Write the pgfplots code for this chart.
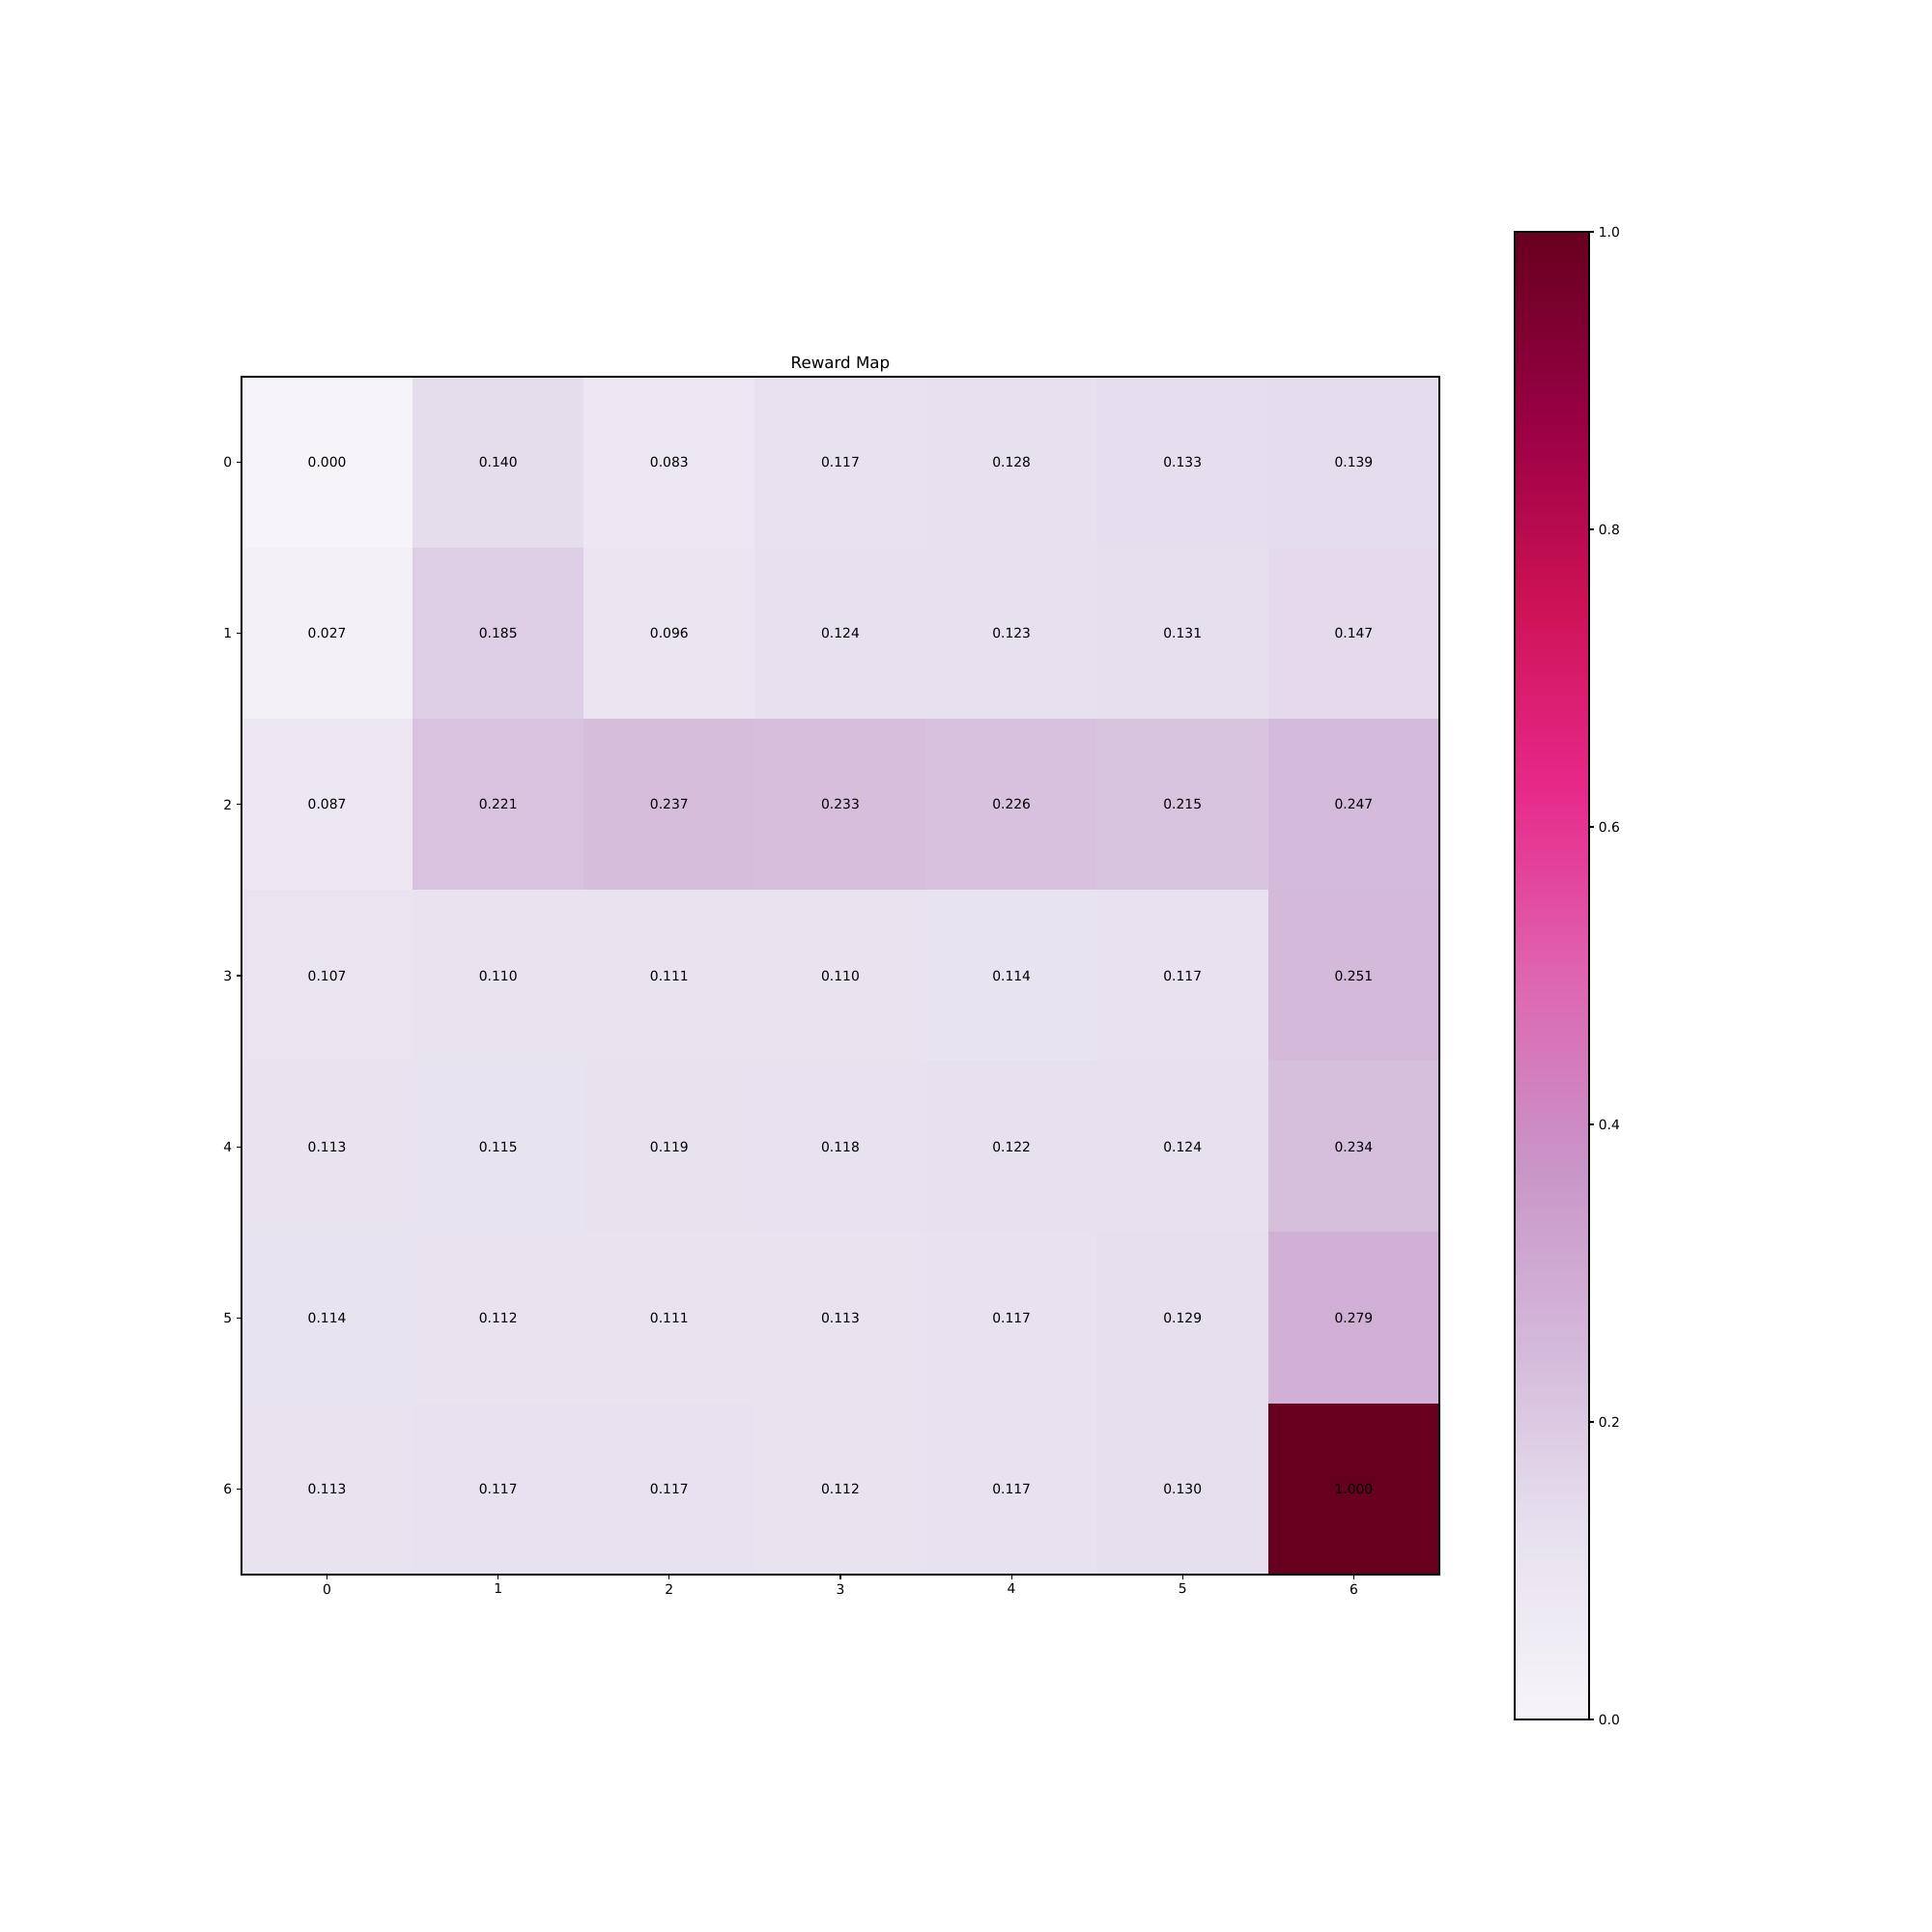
\documentclass[border=0pt]{standalone}
\usepackage{pgfplots}
\pgfplotsset{compat=1.18}
\usepackage{fontspec}
\setmainfont{DejaVu Sans}
\pgfplotsset{/pgf/number format/assume math mode=true}
\pgfplotsset{colormap={PuRd}{rgb255=(247,244,249) rgb255=(231,225,239) rgb255=(212,185,218) rgb255=(201,148,199) rgb255=(223,101,176) rgb255=(231,41,138) rgb255=(206,18,86) rgb255=(152,0,67) rgb255=(103,0,31)}}
\pgfplotstableread{
x y c
0 0 0.000
1 0 0.140
2 0 0.083
3 0 0.117
4 0 0.128
5 0 0.133
6 0 0.139
0 1 0.027
1 1 0.185
2 1 0.096
3 1 0.124
4 1 0.123
5 1 0.131
6 1 0.147
0 2 0.087
1 2 0.221
2 2 0.237
3 2 0.233
4 2 0.226
5 2 0.215
6 2 0.247
0 3 0.107
1 3 0.110
2 3 0.111
3 3 0.110
4 3 0.114
5 3 0.117
6 3 0.251
0 4 0.113
1 4 0.115
2 4 0.119
3 4 0.118
4 4 0.122
5 4 0.124
6 4 0.234
0 5 0.114
1 5 0.112
2 5 0.111
3 5 0.113
4 5 0.117
5 5 0.129
6 5 0.279
0 6 0.113
1 6 0.117
2 6 0.117
3 6 0.112
4 6 0.117
5 6 0.130
6 6 1.000
}\rewardtable
\begin{document}
\begin{tikzpicture}
\path (0,0) rectangle (1440pt,1440pt);
\begin{axis}[
  at={(180pt,266.4pt)}, anchor=south west,
  width=892.8pt, height=892.8pt, scale only axis,
  xmin=-0.5, xmax=6.5, ymin=-0.5, ymax=6.5,
  y dir=reverse, axis on top,
  xtick={0,...,6}, ytick={0,...,6},
  xtick pos=bottom, ytick pos=left,
  tick align=outside, major tick length=3.5pt,
  every tick/.style={black, line width=0.8pt},
  axis line style={line width=0.8pt},
  tick label style={font=\fontsize{10}{12}\selectfont},
  point meta min=0, point meta max=1,
  every axis title shift=0pt,
  title={Reward Map},
  title style={at={(0.5,1)}, anchor=base, yshift=5.8pt, inner sep=0pt, font=\fontsize{12}{14}\selectfont},
]
\addplot[matrix plot*, mesh/cols=7, point meta=explicit] table[x=x, y=y, meta=c] {\rewardtable};
\addplot[draw=none, mark=none, point meta=explicit symbolic,
  nodes near coords, nodes near coords style={anchor=center, text=black, font=\fontsize{10}{12}\selectfont}]
  table[x=x, y=y, meta=c] {\rewardtable};
\end{axis}
\begin{axis}[
  at={(1128.96pt,158.4pt)}, anchor=south west,
  width=55.44pt, height=1108.8pt, scale only axis,
  xmin=0, xmax=1, ymin=0, ymax=1,
  axis on top,
  xtick=\empty,
  ytick={0,0.2,0.4,0.6,0.8,1.0},
  ytick pos=right, yticklabel pos=right,
  tick align=outside, major tick length=3.5pt,
  every tick/.style={black, line width=0.8pt},
  axis line style={line width=0.8pt},
  point meta min=0, point meta max=1,
  yticklabel style={font=\fontsize{10}{12}\selectfont, /pgf/number format/.cd, fixed, fixed zerofill, precision=1},
]
\addplot[surf, shader=interp, mesh/rows=9, point meta=y] coordinates {
(0,0) (1,0)
(0,0.125) (1,0.125)
(0,0.25) (1,0.25)
(0,0.375) (1,0.375)
(0,0.5) (1,0.5)
(0,0.625) (1,0.625)
(0,0.75) (1,0.75)
(0,0.875) (1,0.875)
(0,1) (1,1)
};
\end{axis}
\end{tikzpicture}
\end{document}
